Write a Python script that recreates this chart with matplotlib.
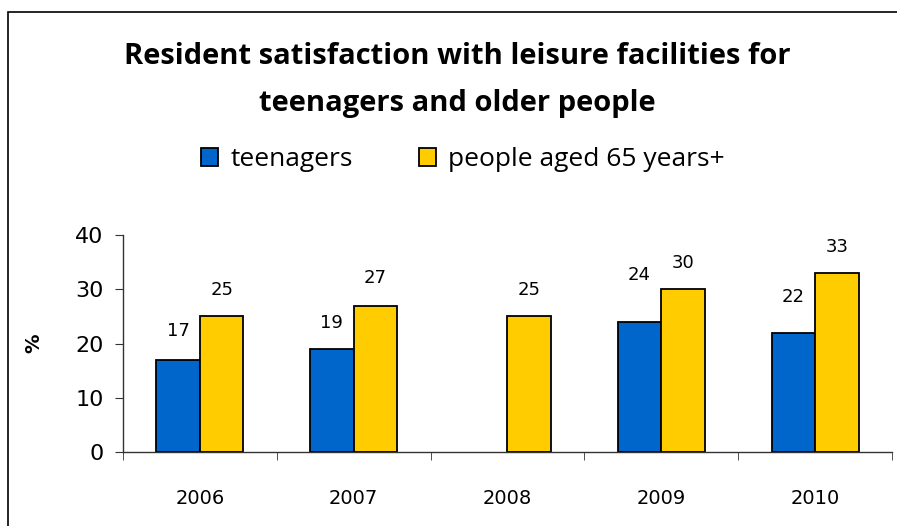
import matplotlib
matplotlib.use("Agg")
import matplotlib.pyplot as plt
import numpy as np
from matplotlib.patches import Rectangle

# data
years = ["2006", "2007", "2008", "2009", "2010"]
teenagers = [17, 19, 0, 24, 22]
older_people = [25, 27, 25, 30, 33]
series_names = ["teenagers", "people aged 65 years+"]

# label offsets above bar top (points) - labels in the original sit unevenly
teen_label_off = [21, 19, 0, 34, 26]
old_label_off = [19, 20, 19, 19, 19]

blue = "#0066CC"
yellow = "#FFCC00"
num_font = "DejaVu Sans"
head_font = "Open Sans"

fig = plt.figure(figsize=(8.97, 5.26), dpi=100)
ax = fig.add_axes([0.1371, 0.1407, 0.8573, 0.4125])

x = np.arange(len(years))
w = 0.283
b1 = ax.bar(x - w / 2, teenagers, w, color=blue, edgecolor="black", linewidth=1.3)
b2 = ax.bar(x + w / 2, older_people, w, color=yellow, edgecolor="black", linewidth=1.3)

# value labels (2008 teenagers has no value shown)
for rect, v, off in zip(b1, teenagers, teen_label_off):
    if v == 0:
        rect.set_linewidth(0)
        continue
    ax.annotate(str(v), (rect.get_x() + rect.get_width() / 2, v),
                xytext=(0, off), textcoords="offset points", ha="center",
                va="center", fontsize=13, family=num_font)
for rect, v, off in zip(b2, older_people, old_label_off):
    ax.annotate(str(v), (rect.get_x() + rect.get_width() / 2, v),
                xytext=(0, off), textcoords="offset points", ha="center",
                va="center", fontsize=13, family=num_font)

ax.set_xlim(-0.5, len(years) - 0.5)
ax.set_ylim(0, 40)
ax.set_yticks([0, 10, 20, 30, 40])
ax.set_xticks(x)
ax.set_xticklabels(years)
ax.set_xticks(np.arange(len(years) + 1) - 0.5, minor=True)
ax.tick_params(axis="x", which="major", length=0, pad=27, labelsize=14)
ax.tick_params(axis="x", which="minor", length=6, direction="out", color="#333333")
ax.tick_params(axis="y", length=6, direction="out", pad=8, labelsize=16, color="#333333")
for lbl in ax.get_xticklabels() + ax.get_yticklabels():
    lbl.set_family(num_font)

for s in ["top", "right"]:
    ax.spines[s].set_visible(False)
for s in ["left", "bottom"]:
    ax.spines[s].set_color("#333333")
    ax.spines[s].set_linewidth(1)

ax.set_ylabel("%", fontsize=14, fontweight="bold", family=num_font)
ax.yaxis.set_label_coords((43 - 123) / 769, 0.5)

fig.text(0.51, 1 - 57 / 526, "Resident satisfaction with leisure facilities for",
         ha="center", va="center", fontsize=21, fontweight="bold", family=head_font)
fig.text(0.51, 1 - 104 / 526, "teenagers and older people",
         ha="center", va="center", fontsize=21, fontweight="bold", family=head_font)

fig.legend([b1, b2], series_names, loc="center", bbox_to_anchor=(0.516, 1 - 160 / 526),
           ncol=2, frameon=False, prop={"family": head_font, "size": 19},
           handlelength=0.65, handleheight=0.65, handletextpad=0.45, columnspacing=2.5)

# outer chart border
fig.patches.append(Rectangle((8 / 897, -0.05), 1.2, 1 - 12 / 526 + 0.05,
                             transform=fig.transFigure, fill=False,
                             edgecolor="black", linewidth=1.2))

fig.savefig("out.png", dpi=100)
